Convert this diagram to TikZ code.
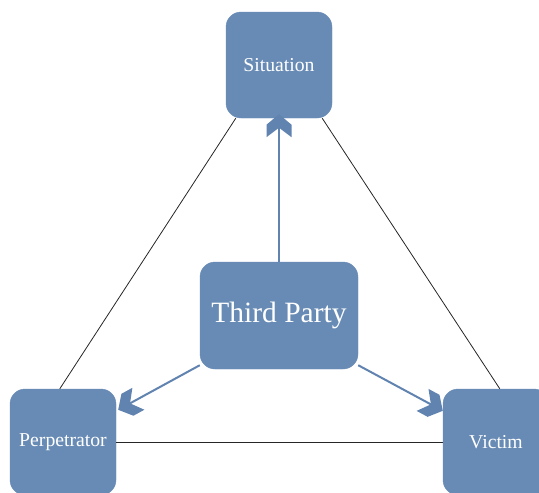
\documentclass[tikz,border=0pt]{standalone}
\usepackage{fontspec}
\setmainfont{Liberation Serif}
\usetikzlibrary{arrows.meta}
\definecolor{boxblue}{RGB}{104,139,181}
\definecolor{arrowblue}{RGB}{96,131,176}
\pgfdeclarearrow{
  name = Chevron,
  setup code = {
    \pgfarrowssettipend{0pt}
    \pgfarrowssetlineend{-12pt}
    \pgfarrowssetbackend{-23pt}
    \pgfarrowsupperhullpoint{-23pt}{12.5pt}
    \pgfarrowsupperhullpoint{0pt}{0pt}
  },
  drawing code = {
    \pgfsetfillcolor{arrowblue}
    \pgfpathmoveto{\pgfpoint{0pt}{0pt}}
    \pgfpathlineto{\pgfpoint{-10.5pt}{12.5pt}}
    \pgfpathlineto{\pgfpoint{-23pt}{12.5pt}}
    \pgfpathlineto{\pgfpoint{-13.5pt}{0pt}}
    \pgfpathlineto{\pgfpoint{-23pt}{-12.5pt}}
    \pgfpathlineto{\pgfpoint{-10.5pt}{-12.5pt}}
    \pgfpathclose
    \pgfusepathqfill
  }
}
\begin{document}
\begin{tikzpicture}[x=1pt,y=-1pt,
  box/.style={fill=boxblue, draw=boxblue, rounded corners=15pt, text=white, inner sep=0pt, font=\fontsize{19.7}{22}\selectfont},
  link/.style={draw=black!85, line width=0.8pt},
  push/.style={draw=arrowblue, line width=2pt, -Chevron}]
\useasboundingbox (0,0) rectangle (539,493);
\node[box, minimum width=106pt, minimum height=106pt] (sit) at (279,65) {Situation};
\node[box, minimum width=158pt, minimum height=107pt, font=\fontsize{29.5}{32}\selectfont] (tp) at (279,315.5) {Third Party};
\node[box, minimum width=106pt, minimum height=106pt] (perp) at (63,442) {Perpetrator};
\node[box, minimum width=106pt, minimum height=106pt] (vic) at (496,442) {Victim};
\draw[link] ([xshift=10pt]sit.south west) -- ([xshift=50pt]perp.north west);
\draw[link] ([xshift=-10pt]sit.south east) -- ([xshift=57pt]vic.north west);
\draw[link] (perp.east) -- (vic.west);
\draw[push] (tp.north) -- ([yshift=4pt]sit.south);
\draw[push] ([yshift=4pt]tp.south west) -- ([xshift=2pt,yshift=-21pt]perp.north east);
\draw[push] ([yshift=4pt]tp.south east) -- ([yshift=-22pt]vic.north west);
\end{tikzpicture}
\end{document}
